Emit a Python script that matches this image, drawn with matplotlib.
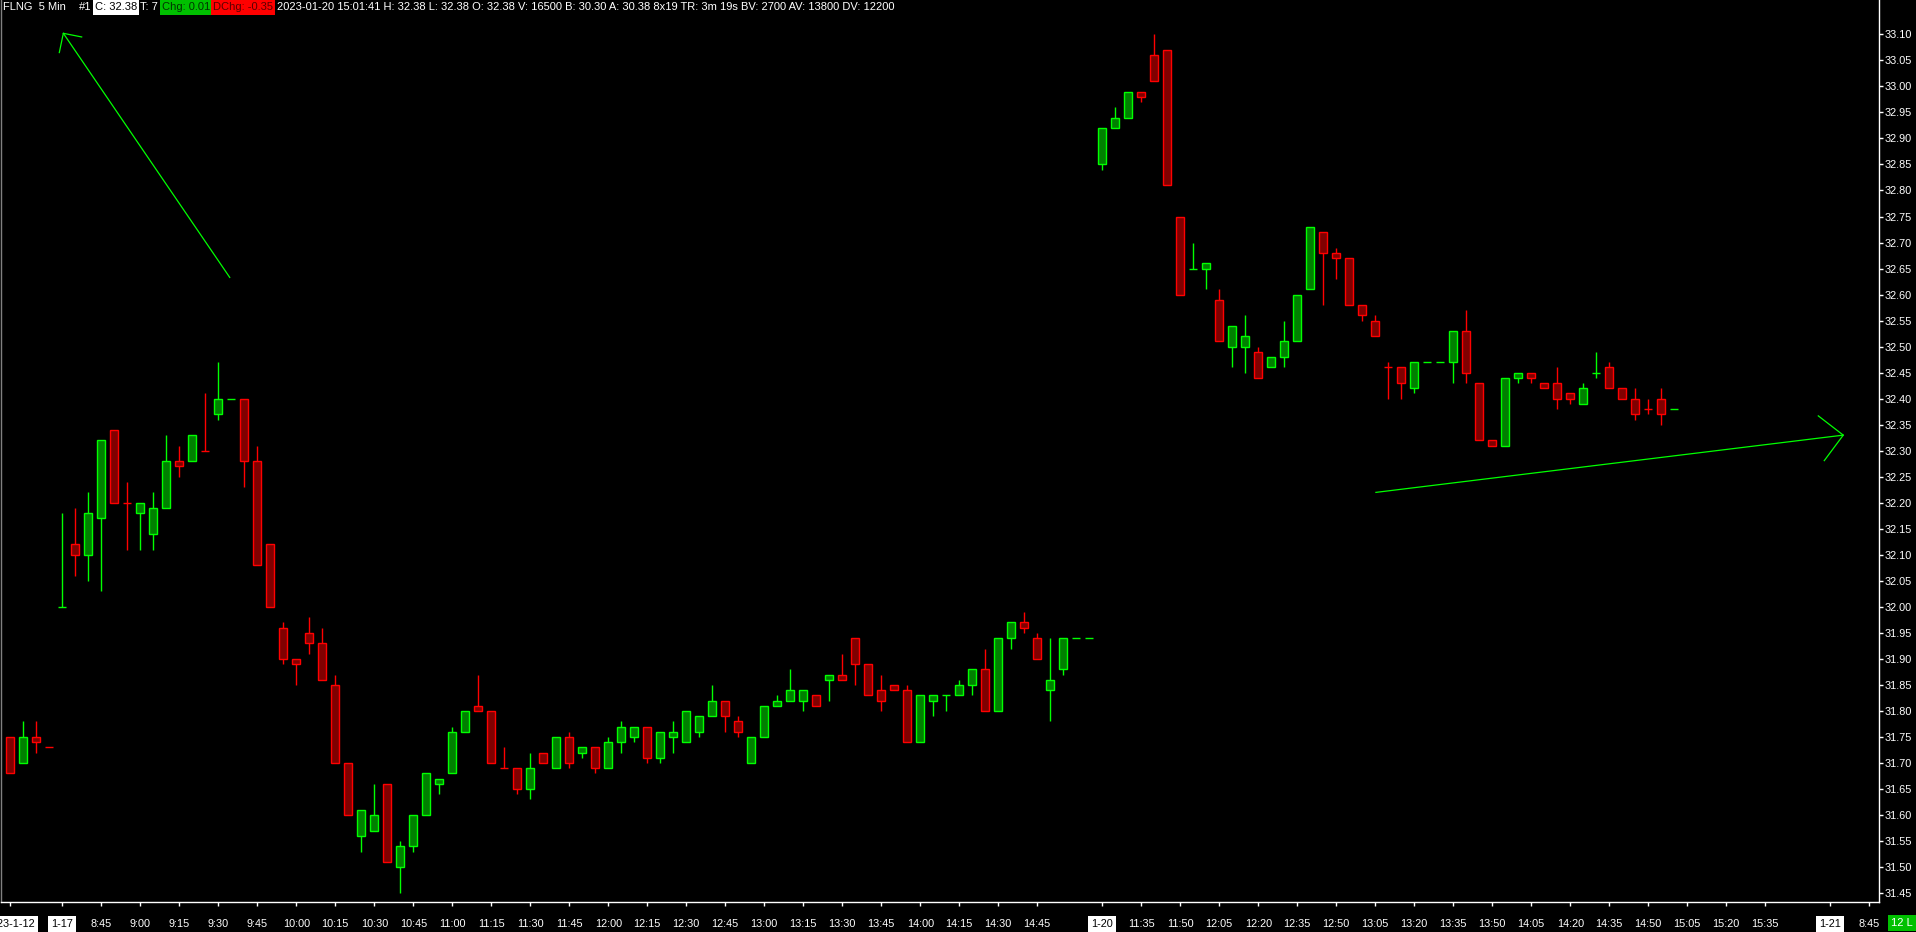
import matplotlib
matplotlib.use('Agg')
import matplotlib.pyplot as plt
import numpy as np

plt.rcParams['font.family'] = ['Liberation Sans', 'DejaVu Sans']

# FLNG 5 min bars: 4 bars of 1-12, 80 bars of 1-17 (8:30-15:05), 45 bars of 1-20 (11:20-15:00)
opens = [31.75, 31.70, 31.75, 31.73,
         32.00, 32.12, 32.10, 32.17, 32.34, 32.20, 32.18, 32.14, 32.19, 32.28, 32.28, 32.30,
         32.37, 32.40, 32.40, 32.28, 32.12, 31.96, 31.90, 31.95, 31.93, 31.85, 31.70, 31.56,
         31.57, 31.66, 31.50, 31.54, 31.60, 31.66, 31.68, 31.76, 31.81, 31.80, 31.69, 31.69,
         31.65, 31.72, 31.69, 31.75, 31.72, 31.73, 31.69, 31.74, 31.75, 31.77, 31.71, 31.75,
         31.74, 31.76, 31.79, 31.82, 31.78, 31.70, 31.75, 31.81, 31.82, 31.82, 31.83, 31.86,
         31.87, 31.94, 31.89, 31.84, 31.85, 31.84, 31.74, 31.82, 31.83, 31.83, 31.85, 31.88,
         31.80, 31.94, 31.97, 31.94, 31.84, 31.88, 31.94, 31.94,
         32.85, 32.92, 32.94, 32.99, 33.06, 33.07, 32.75, 32.65, 32.65, 32.59, 32.50, 32.50,
         32.49, 32.46, 32.48, 32.51, 32.61, 32.72, 32.68, 32.67, 32.58, 32.55, 32.46, 32.46,
         32.42, 32.47, 32.47, 32.47, 32.53, 32.43, 32.32, 32.31, 32.44, 32.45, 32.43, 32.43,
         32.41, 32.39, 32.45, 32.46, 32.42, 32.40, 32.38, 32.40, 32.38]
highs = [31.75, 31.78, 31.78, 31.73,
         32.18, 32.19, 32.22, 32.32, 32.34, 32.24, 32.20, 32.22, 32.33, 32.31, 32.33, 32.41,
         32.47, 32.40, 32.40, 32.31, 32.12, 31.97, 31.90, 31.98, 31.96, 31.87, 31.70, 31.61,
         31.66, 31.66, 31.55, 31.60, 31.68, 31.67, 31.77, 31.80, 31.87, 31.80, 31.73, 31.69,
         31.72, 31.72, 31.75, 31.76, 31.73, 31.73, 31.75, 31.78, 31.77, 31.77, 31.76, 31.78,
         31.80, 31.79, 31.85, 31.82, 31.79, 31.75, 31.81, 31.83, 31.88, 31.84, 31.83, 31.87,
         31.91, 31.94, 31.89, 31.87, 31.85, 31.85, 31.83, 31.83, 31.83, 31.86, 31.88, 31.92,
         31.94, 31.97, 31.99, 31.95, 31.94, 31.94, 31.94, 31.94,
         32.92, 32.96, 32.99, 32.99, 33.10, 33.07, 32.75, 32.70, 32.66, 32.61, 32.54, 32.56,
         32.50, 32.48, 32.55, 32.60, 32.73, 32.72, 32.69, 32.67, 32.58, 32.56, 32.47, 32.46,
         32.47, 32.47, 32.47, 32.53, 32.57, 32.43, 32.32, 32.44, 32.45, 32.45, 32.43, 32.46,
         32.41, 32.43, 32.49, 32.47, 32.42, 32.42, 32.40, 32.42, 32.38]
lows = [31.68, 31.70, 31.72, 31.73,
        32.00, 32.06, 32.05, 32.03, 32.20, 32.11, 32.11, 32.11, 32.19, 32.25, 32.28, 32.30,
        32.36, 32.40, 32.23, 32.08, 32.00, 31.89, 31.85, 31.91, 31.86, 31.70, 31.60, 31.53,
        31.57, 31.51, 31.45, 31.53, 31.60, 31.64, 31.68, 31.76, 31.80, 31.70, 31.69, 31.64,
        31.63, 31.70, 31.69, 31.69, 31.71, 31.68, 31.69, 31.72, 31.74, 31.70, 31.70, 31.72,
        31.74, 31.75, 31.79, 31.76, 31.75, 31.70, 31.75, 31.81, 31.82, 31.80, 31.81, 31.82,
        31.86, 31.85, 31.83, 31.80, 31.84, 31.74, 31.74, 31.79, 31.80, 31.83, 31.83, 31.80,
        31.80, 31.92, 31.95, 31.90, 31.78, 31.87, 31.94, 31.94,
        32.84, 32.92, 32.94, 32.97, 33.01, 32.81, 32.60, 32.65, 32.61, 32.51, 32.46, 32.45,
        32.44, 32.46, 32.46, 32.51, 32.61, 32.58, 32.63, 32.58, 32.55, 32.52, 32.40, 32.40,
        32.41, 32.47, 32.47, 32.43, 32.43, 32.32, 32.31, 32.31, 32.43, 32.43, 32.42, 32.38,
        32.39, 32.39, 32.44, 32.42, 32.40, 32.36, 32.37, 32.35, 32.38]
closes = [31.68, 31.75, 31.74, 31.73,
          32.00, 32.10, 32.18, 32.32, 32.20, 32.20, 32.20, 32.19, 32.28, 32.27, 32.33, 32.30,
          32.40, 32.40, 32.28, 32.08, 32.00, 31.90, 31.89, 31.93, 31.86, 31.70, 31.60, 31.61,
          31.60, 31.51, 31.54, 31.60, 31.68, 31.67, 31.76, 31.80, 31.80, 31.70, 31.69, 31.65,
          31.69, 31.70, 31.75, 31.70, 31.73, 31.69, 31.74, 31.77, 31.77, 31.71, 31.76, 31.76,
          31.80, 31.79, 31.82, 31.79, 31.76, 31.75, 31.81, 31.82, 31.84, 31.84, 31.81, 31.87,
          31.86, 31.89, 31.83, 31.82, 31.84, 31.74, 31.83, 31.83, 31.83, 31.85, 31.88, 31.80,
          31.94, 31.97, 31.96, 31.90, 31.86, 31.94, 31.94, 31.94,
          32.92, 32.94, 32.99, 32.98, 33.01, 32.81, 32.60, 32.65, 32.66, 32.51, 32.54, 32.52,
          32.44, 32.48, 32.51, 32.60, 32.73, 32.68, 32.67, 32.58, 32.56, 32.52, 32.46, 32.43,
          32.47, 32.47, 32.47, 32.53, 32.45, 32.32, 32.31, 32.44, 32.45, 32.44, 32.42, 32.40,
          32.40, 32.42, 32.45, 32.42, 32.40, 32.37, 32.38, 32.37, 32.38]
# dojis drawn in green (the rest of the dojis are red)
doji_up = [4, 17, 72, 82, 83, 91, 109, 110, 122, 128]

tick_pos = [0, 4, 7, 10, 13, 16, 19, 22, 25, 28, 31, 34, 37, 40, 43, 46, 49, 52, 55, 58,
            61, 64, 67, 70, 73, 76, 79, 84, 87, 90, 93, 96, 99, 102, 105, 108, 111, 114,
            117, 120, 123, 126, 129, 132, 135, 140, 143]
tick_text = ['2023-1-12', '1-17', '8:45', '9:00', '9:15', '9:30', '9:45', '10:00', '10:15',
             '10:30', '10:45', '11:00', '11:15', '11:30', '11:45', '12:00', '12:15', '12:30',
             '12:45', '13:00', '13:15', '13:30', '13:45', '14:00', '14:15', '14:30', '14:45',
             '1-20', '11:35', '11:50', '12:05', '12:20', '12:35', '12:50', '13:05', '13:20',
             '13:35', '13:50', '14:05', '14:20', '14:35', '14:50', '15:05', '15:20', '15:35',
             '1-21', '8:45']
date_labels = ['2023-1-12', '1-17', '1-20', '1-21']

# trend line drawings (bar index, price): tail, tip, two head ends
arrow_up = [(16.88, 32.633), (4.08, 33.102), (5.49, 33.095), (3.77, 33.065)]
arrow_right = [(105.05, 32.220), (141.0, 32.330), (139.08, 32.367), (139.54, 32.281)]

header = [('FLNG  5 Min', 3, 'white', None),
          ('#1', 79, 'white', None),
          ('C: 32.38', 95, 'black', 'white'),
          ('T: 7', 140, 'white', None),
          ('Chg: 0.01', 162, '#003300', '#00C000'),
          ('DChg: -0.35', 213, '#5a0000', '#FF0000'),
          ('2023-01-20 15:01:41 H: 32.38 L: 32.38 O: 32.38 V: 16500 B: 30.30 A: 30.38 '
           '8x19 TR: 3m 19s BV: 2700 AV: 13800 DV: 12200', 277, 'white', None)]

W, H = 1916, 932
fig = plt.figure(figsize=(W / 100, H / 100), dpi=100, facecolor='black')
ax = fig.add_axes([1 / W, 30 / H, 1878 / W, 902 / H], facecolor='black')

x = np.arange(len(opens))
o, h, l, c = (np.array(v) for v in (opens, highs, lows, closes))
up = c > o
up[doji_up] = True
edge = np.where(up, '#00FF00', '#FF0000')
fill = np.where(up, '#008000', '#800000')

ax.vlines(x, l, h, colors=edge, linewidth=1.0, zorder=2)
ax.bar(x, c - o, bottom=o, width=0.6, color=fill, edgecolor=edge, linewidth=1.0, zorder=3)

for arr in (arrow_up, arrow_right):
    tail, tip, h1, h2 = arr
    ax.plot([tail[0], tip[0]], [tail[1], tip[1]], color='#00FF00', lw=0.9)
    ax.plot([h1[0], tip[0], h2[0]], [h1[1], tip[1], h2[1]], color='#00FF00', lw=0.9)

ax.set_xlim(-0.715, 143.75)
ax.set_ylim(31.433, 33.166)

ax.yaxis.tick_right()
ax.set_yticks(np.arange(31.45, 33.11, 0.05))
ax.yaxis.set_major_formatter(plt.FormatStrFormatter('%.2f'))
ax.set_xticks(tick_pos)
ax.set_xticklabels(tick_text)
ax.tick_params(colors='white', labelsize=7.8, length=3, width=1)
ax.tick_params(axis='y', pad=1)
ax.tick_params(axis='x', pad=9)
for lab in ax.get_xticklabels():
    if lab.get_text() in date_labels:
        lab.set_color('black')
        lab.set_bbox(dict(facecolor='white', edgecolor='none', pad=2.2))

for side in ('left', 'right', 'bottom'):
    ax.spines[side].set_color('white')
    ax.spines[side].set_linewidth(1)
ax.spines['left'].set_color('#808080')
ax.spines['top'].set_visible(False)

for text, px, col, bg in header:
    t = fig.text(px / W, 1 - 7.5 / H, text, color=col, fontsize=8, va='center', ha='left')
    if bg:
        t.set_bbox(dict(facecolor=bg, edgecolor='none', pad=1.5))

fig.text(1913 / W, 9 / H, '12 L', color='white', fontsize=8, ha='right', va='center',
         bbox=dict(facecolor='#00C000', edgecolor='none', pad=2.5))

fig.savefig('out.png', dpi=100, facecolor='black')
